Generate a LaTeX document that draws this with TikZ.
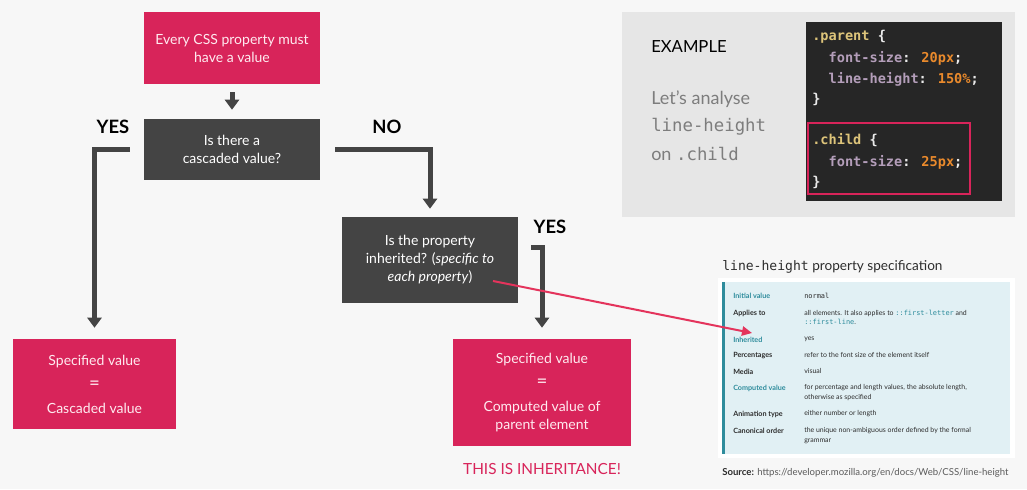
\documentclass[tikz,border=0pt]{standalone}
\usepackage{fontspec}
\setmainfont{Lato}
\newfontfamily\codefont{DejaVu Sans Mono}
\usepackage{tikz}
\usetikzlibrary{arrows.meta}
\usetikzlibrary{calc}

\definecolor{crimson}{RGB}{216,36,90}
\definecolor{boxgray}{RGB}{68,68,68}
\definecolor{pagebg}{RGB}{247,247,247}
\definecolor{panelgray}{RGB}{230,230,230}
\definecolor{lightgraytext}{RGB}{125,125,125}
\definecolor{codebg}{RGB}{38,38,38}
\definecolor{codeyellow}{RGB}{221,196,122}
\definecolor{codeprop}{RGB}{180,158,186}
\definecolor{codeval}{RGB}{234,138,44}
\definecolor{codepunct}{RGB}{235,235,235}
\definecolor{pointerred}{RGB}{228,52,92}
\definecolor{specblue}{RGB}{225,240,244}
\definecolor{specteal}{RGB}{46,140,156}
\definecolor{spectext}{RGB}{45,45,45}

\tikzset{
  pinkbox/.style={rectangle, fill=crimson, text={rgb,255:red,255;green,235;blue,240}, align=center, inner sep=0pt, font=\fontsize{10.5}{13.5}\selectfont},
  graybox/.style={rectangle, fill=boxgray, text=white, align=center, inner sep=0pt, font=\fontsize{10.5}{13.5}\selectfont},
  flow/.style={draw=boxgray, line width=3.75pt, -{Triangle[width=10.5pt,length=7.5pt]}},
  answer/.style={font=\fontsize{13.8}{16}\selectfont\bfseries, text=black, inner sep=0pt},
  codeline/.style={anchor=west, inner sep=0pt, font=\codefont\bfseries\fontsize{10.2}{12}\selectfont, text=codepunct},
  speclabel/.style={anchor=west, inner sep=0pt, font=\fontsize{5.4}{7.4}\selectfont\bfseries, text=spectext},
  specvalue/.style={anchor=north west, inner sep=0pt, align=left, font=\fontsize{5.2}{7.4}\selectfont, text=spectext},
  pointer/.style={draw=pointerred, line width=1.5pt, -{Triangle[width=7pt,length=7.5pt]}}
}
\newcommand{\eqsign}{{\fontsize{14}{13.5}\selectfont =}}

\begin{document}
\begin{tikzpicture}[x=0.75pt,y=0.75pt,yscale=-1,xscale=1]
\useasboundingbox (0,0) rectangle (1027,489);
\fill[pagebg] (0,0) rectangle (1027,489);

%Flowchart: Process
\node[pinkbox, minimum width=132pt, minimum height=54pt] (start) at (232,48) {Every CSS property must\\have a value};
%Flowchart: Decision
\node[graybox, minimum width=132pt, minimum height=45.75pt] (cascade) at (232,149.5) {Is there a\\cascaded value?};
%Flowchart: Decision
\node[graybox, minimum width=132pt, minimum height=64.5pt] (inh) at (430,260) {Is the property\\inherited? (\textit{specific to}\\\textit{each property})};
%Flowchart: Terminator
\node[pinkbox, minimum width=122.25pt, minimum height=67.5pt] (specL) at (94.5,384) {Specified value\\[4.5pt]\eqsign\\[4.5pt]Cascaded value};
%Flowchart: Terminator
\node[pinkbox, minimum width=133.5pt, minimum height=80.25pt] (specR) at (542,392.5) {Specified value\\[4.5pt]\eqsign\\[4.5pt]Computed value of\\parent element};

%Answers
\node[answer] (yesA) at (113,127) {YES};
\node[answer] (noA) at (387,127) {NO};
\node[answer] (yesB) at (550,227) {YES};
\node[font=\fontsize{11.5}{14}\selectfont, text=crimson, inner sep=0pt] (inhnote) at (542,469) {THIS IS INHERITANCE!};

%Connectors
\draw[flow, shorten <=6pt, shorten >=6.75pt] (start) -- (cascade);
\draw[flow, shorten >=8.25pt] ($(cascade.west)+(-14,0)$) -| (specL.north);
\draw[flow, shorten >=6pt] ($(cascade.east)+(15,0)$) -| (inh.north);
\draw[flow, shorten >=8.25pt] ($(inh.east)+(13,-13)$) -| (specR.north);

%Example panel
\fill[panelgray] (622,12) rectangle (1015,217);
\node[anchor=west, inner sep=0pt, font=\fontsize{12.5}{15}\selectfont, text=black] (extitle) at (651,47) {EXAMPLE};
\node[anchor=west, inner sep=0pt, font=\fontsize{13.5}{16}\selectfont, text=lightgraytext] (exline1) at (651,99) {Let’s analyse};
\node[anchor=west, inner sep=0pt, font=\codefont\fontsize{13}{16}\selectfont, text=lightgraytext] (exline2) at (651,127) {line-height};
\node[anchor=west, inner sep=0pt, font=\fontsize{13.5}{16}\selectfont, text=lightgraytext] (exline3) at (651,154) {on {\codefont\fontsize{13}{16}\selectfont.child}};

%Code
\fill[codebg] (806,22) rectangle (1002,201);
\node[codeline] (c1) at (812,37) {\textcolor{codeyellow}{.parent} \{};
\node[codeline] (c2) at (812,58) {\ \ \textcolor{codeprop}{font-size}: \textcolor{codeval}{20px};};
\node[codeline] (c3) at (812,79) {\ \ \textcolor{codeprop}{line-height}: \textcolor{codeval}{150\%};};
\node[codeline] (c4) at (812,99) {\}};
\node[codeline] (c5) at (812,140) {\textcolor{codeyellow}{.child} \{};
\node[codeline] (c6) at (812,162) {\ \ \textcolor{codeprop}{font-size}: \textcolor{codeval}{25px};};
\node[codeline] (c7) at (812,182) {\}};
\draw[crimson, line width=1.9pt] (808,123) rectangle (970,194);

%Specification
\node[anchor=west, inner sep=0pt, font=\fontsize{10.2}{12}\selectfont, text=spectext] (spectitle) at (722,267) {{\codefont\fontsize{9.8}{12}\selectfont line-height} property specification};
\fill[white] (718,278) rectangle (1015,458);
\fill[specblue] (722,282) rectangle (1010,454);
\fill[specteal] (722,282) rectangle (725,454);

\node[speclabel, text=specteal] (lInit) at (733,296) {Initial value};
\node[speclabel] (lApplies) at (733,313) {Applies to};
\node[speclabel, text=specteal] (lInh) at (733,340) {Inherited};
\node[speclabel] (lPerc) at (733,356) {Percentages};
\node[speclabel] (lMedia) at (733,372) {Media};
\node[speclabel, text=specteal] (lComp) at (733,388) {Computed value};
\node[speclabel] (lAnim) at (733,414) {Animation type};
\node[speclabel] (lCanon) at (733,431) {Canonical order};

\node[specvalue] (vInit) at (804,293) {{\codefont normal}};
\node[specvalue] (vApplies) at (804,309.5) {all elements. It also applies to {\codefont\color{specteal}::first-letter} and\\{\codefont\color{specteal}::first-line}.};
\node[specvalue] (vInh) at (804,336.5) {yes};
\node[specvalue] (vPerc) at (804,352.5) {refer to the font size of the element itself};
\node[specvalue] (vMedia) at (804,368.5) {visual};
\node[specvalue] (vComp) at (804,384.5) {for percentage and length values, the absolute length,\\otherwise as specified};
\node[specvalue] (vAnim) at (804,410.5) {either number or length};
\node[specvalue] (vCanon) at (804,427.5) {the unique non-ambiguous order defined by the formal\\grammar};

\node[anchor=west, inner sep=0pt, font=\fontsize{7.2}{9}\selectfont, text={rgb,255:red,90;green,90;blue,90}] (source) at (722,473) {\textbf{\color{spectext}Source:} https://developer.mozilla.org/en/docs/Web/CSS/line-height};

%Pointer
\coordinate (ptrstart) at ($(inh.center)+(63,21)$);
\coordinate (ptrend) at ($(lInh.west)+(19,-7)$);
\draw[pointer] (ptrstart) -- (ptrend);

\end{tikzpicture}
\end{document}
